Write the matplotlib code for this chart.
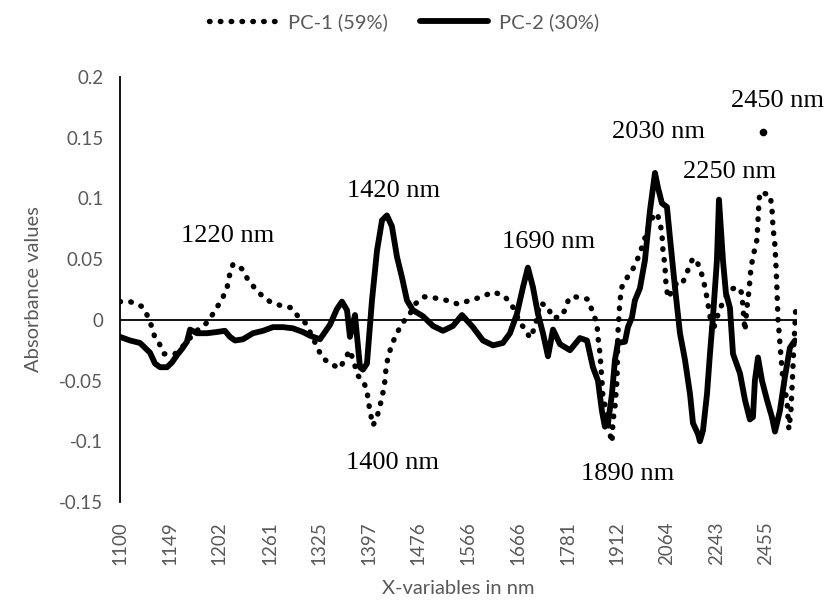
import matplotlib
matplotlib.use("Agg")
import matplotlib.pyplot as plt

# ---------------- data ----------------
# x positions are wavenumbers (cm-1); the category labels are in nm
tick_nm = [1100, 1149, 1202, 1261, 1325, 1397, 1476, 1566, 1666, 1781, 1912, 2064, 2243, 2455]
ytick_vals = [-0.15, -0.1, -0.05, 0, 0.05, 0.1, 0.15, 0.2]
ytick_labels = ["-0.15", "-0.1", "-0.05", "0", "0.05", "0.1", "0.15", "0.2"]

pc1_wn = [9091, 9013, 8920, 8881, 8843, 8819, 8788, 8749, 8664, 8586, 8509, 8431, 8392, 8345,
          8299, 8260, 8245, 8213, 8144, 8097, 8043, 7980, 7926, 7849, 7763, 7709, 7647, 7561,
          7522, 7460, 7383, 7344, 7305, 7266, 7243, 7204, 7173, 7165, 7150, 7126, 7095, 7072,
          7049, 7033, 7025, 7010, 6979, 6940, 6901, 6839, 6800, 6730, 6645, 6552, 6466, 6373,
          6280, 6194, 6109, 6062, 6024, 5985, 5946, 5907, 5868, 5829, 5767, 5736, 5674, 5635,
          5604, 5558, 5503, 5457, 5418, 5387, 5379, 5363, 5348, 5340, 5309, 5286, 5270, 5262,
          5247, 5239, 5231, 5224, 5216, 5208, 5193, 5146, 5107, 5068, 5037, 4991, 4952, 4921,
          4897, 4882, 4874, 4859, 4851, 4835, 4797, 4758, 4719, 4680, 4641, 4602, 4571, 4548,
          4532, 4509, 4486, 4462, 4408, 4354, 4292, 4261, 4253, 4237, 4222, 4206, 4191, 4175,
          4144, 4136, 4129, 4121, 4043, 4028, 4020, 4004, 3997, 3989, 3981, 3973, 3966, 3958,
          3950, 3942, 3927, 3911, 3903, 3896, 3880, 3872, 3865, 3857, 3849, 3841]
pc1_val = [0.015, 0.015, 0.011, 0.004, -0.006, -0.015, -0.019, -0.028, -0.028, -0.020, -0.010,
           -0.004, 0.001, 0.009, 0.017, 0.026, 0.035, 0.046, 0.042, 0.033, 0.026, 0.019, 0.015,
           0.012, 0.010, 0.003, -0.003, -0.022, -0.031, -0.036, -0.040, -0.032, -0.025, -0.038,
           -0.046, -0.050, -0.058, -0.065, -0.075, -0.087, -0.080, -0.071, -0.060, -0.050,
           -0.040, -0.031, -0.020, -0.011, -0.003, 0.005, 0.013, 0.019, 0.018, 0.016, 0.013,
           0.016, 0.019, 0.023, 0.020, 0.014, 0.008, -0.003, -0.007, -0.015, -0.006, 0.014,
           0.011, 0.002, 0.002, 0.008, 0.018, 0.019, 0.018, 0.017, 0.006, -0.003, -0.014,
           -0.028, -0.050, -0.064, -0.077, -0.094, -0.101, -0.083, -0.072, -0.061, -0.050,
           -0.011, 0.002, 0.016, 0.027, 0.036, 0.042, 0.051, 0.060, 0.075, 0.085, 0.088, 0.080,
           0.071, 0.057, 0.045, 0.030, 0.018, 0.025, 0.032, 0.031, 0.041, 0.051, 0.046, 0.037,
           0.027, 0.018, 0.003, -0.010, 0.000, 0.015, 0.025, 0.027, 0.022, 0.010, -0.009, 0.010,
           0.024, 0.042, 0.052, 0.066, 0.082, 0.096, 0.105, 0.103, 0.093, 0.077, 0.061, 0.046,
           0.026, 0.001, -0.009, -0.019, -0.029, -0.039, -0.050, -0.058, -0.066, -0.080, -0.090,
           -0.075, -0.057, -0.040, -0.020, -0.005, 0.014]

pc2_wn = [9091, 9013, 8936, 8858, 8819, 8780, 8726, 8687, 8648, 8610, 8571, 8547, 8493, 8415,
          8338, 8276, 8237, 8198, 8136, 8058, 7980, 7903, 7825, 7748, 7670, 7616, 7538, 7460,
          7406, 7367, 7328, 7305, 7266, 7227, 7204, 7173, 7134, 7095, 7056, 7018, 6979, 6940,
          6901, 6862, 6816, 6738, 6660, 6583, 6505, 6435, 6350, 6272, 6194, 6117, 6062, 6008,
          5961, 5923, 5884, 5845, 5806, 5767, 5728, 5674, 5596, 5519, 5464, 5418, 5379, 5348,
          5325, 5301, 5270, 5247, 5224, 5169, 5146, 5115, 5092, 5053, 5014, 4975, 4936, 4913,
          4882, 4843, 4820, 4781, 4742, 4703, 4664, 4641, 4602, 4587, 4563, 4532, 4509, 4486,
          4455, 4439, 4408, 4385, 4354, 4330, 4276, 4237, 4199, 4175, 4160, 4136, 4105, 4066,
          4028, 4004, 3966, 3927, 3888, 3849]
pc2_val = [-0.014, -0.017, -0.019, -0.027, -0.036, -0.039, -0.039, -0.035, -0.029, -0.024,
           -0.018, -0.008, -0.011, -0.011, -0.010, -0.009, -0.014, -0.017, -0.016, -0.011,
           -0.009, -0.006, -0.006, -0.007, -0.010, -0.013, -0.016, -0.004, 0.009, 0.015, 0.008,
           -0.014, 0.004, -0.039, -0.041, -0.036, 0.016, 0.057, 0.082, 0.086, 0.077, 0.052,
           0.035, 0.016, 0.008, 0.003, -0.005, -0.009, -0.005, 0.004, -0.006, -0.017, -0.021,
           -0.019, -0.011, 0.005, 0.027, 0.043, 0.027, 0.005, -0.011, -0.030, -0.008, -0.020,
           -0.025, -0.015, -0.017, -0.039, -0.050, -0.075, -0.088, -0.085, -0.061, -0.033,
           -0.019, -0.018, -0.006, 0.002, 0.016, 0.026, 0.049, 0.090, 0.121, 0.109, 0.096, 0.093,
           0.068, 0.027, -0.011, -0.033, -0.061, -0.085, -0.094, -0.100, -0.091, -0.061, -0.028,
           0.002, 0.049, 0.099, 0.049, 0.022, 0.010, -0.028, -0.044, -0.066, -0.082, -0.080,
           -0.050, -0.031, -0.050, -0.066, -0.080, -0.092, -0.075, -0.047, -0.023, -0.017]

labels_text = ["1220 nm", "1420 nm", "1690 nm", "2030 nm", "2250 nm", "2450 nm", "1400 nm", "1890 nm"]
labels_wn = [8252, 6963, 5760, 4905, 4354, 3981, 6971, 5146]
labels_val = [0.069, 0.106, 0.064, 0.155, 0.122, 0.180, -0.1175, -0.1266]
stray_wn = [4098]
stray_val = [0.1546]

assert len(pc1_wn) == len(pc1_val)
assert len(pc2_wn) == len(pc2_val)

# ---------------- figure ----------------
W, H = 831, 605
fig = plt.figure(figsize=(W / 100, H / 100), dpi=100)
ax = fig.add_axes([120 / W, 1 - 502 / H, (797 - 120) / W, (502 - 77) / H])

grey = "#595959"
tick_font = "Lato"

l1, = ax.plot(pc1_wn, pc1_val, color="black", lw=3.9,
              linestyle=(0, (0.1, 1.9)), dash_capstyle="round", label="PC-1 (59%)", zorder=2)
l2, = ax.plot(pc2_wn, pc2_val, color="black", lw=4.2,
              solid_joinstyle="round", solid_capstyle="round", label="PC-2 (30%)", zorder=3)
ax.plot(stray_wn, stray_val, "o", color="black", ms=4.5, zorder=3, clip_on=False)

ax.axhline(0, color="black", lw=1.3, zorder=1)

ax.set_xlim(9091, 3833)
ax.set_ylim(-0.15, 0.2)

ax.set_xticks([1e7 / v for v in tick_nm])
ax.set_xticklabels([str(v) for v in tick_nm], rotation=90, color=grey,
                   fontsize=13.5, family=tick_font)
ax.set_yticks(ytick_vals)
ax.set_yticklabels(ytick_labels, color=grey, fontsize=13.5, family=tick_font)
ax.tick_params(axis="x", length=0, pad=14)
ax.tick_params(axis="y", length=0, pad=12)

for s in ["top", "right", "bottom"]:
    ax.spines[s].set_visible(False)
ax.spines["left"].set_linewidth(1.3)
ax.spines["left"].set_color("black")

ax.set_xlabel("X-variables in nm", color=grey, fontsize=14.5, family=tick_font)
ax.xaxis.set_label_coords(0.5, -0.183)
ax.set_ylabel("Absorbance values", color=grey, fontsize=14.5, family=tick_font)
ax.yaxis.set_label_coords(-0.115, 0.5)

for t, xw, yv in zip(labels_text, labels_wn, labels_val):
    ax.text(xw, yv, t, ha="center", va="center", fontsize=19,
            family="Liberation Serif", color="black", clip_on=False)

leg = fig.legend(handles=[l1, l2], loc="center", bbox_to_anchor=(404 / W, 1 - 22 / H),
                 ncol=2, frameon=False, handlelength=3.4,
                 columnspacing=1.6, handletextpad=0.5,
                 prop={"family": tick_font, "size": 14.5})
for txt in leg.get_texts():
    txt.set_color(grey)

fig.savefig("out.png", dpi=100)
